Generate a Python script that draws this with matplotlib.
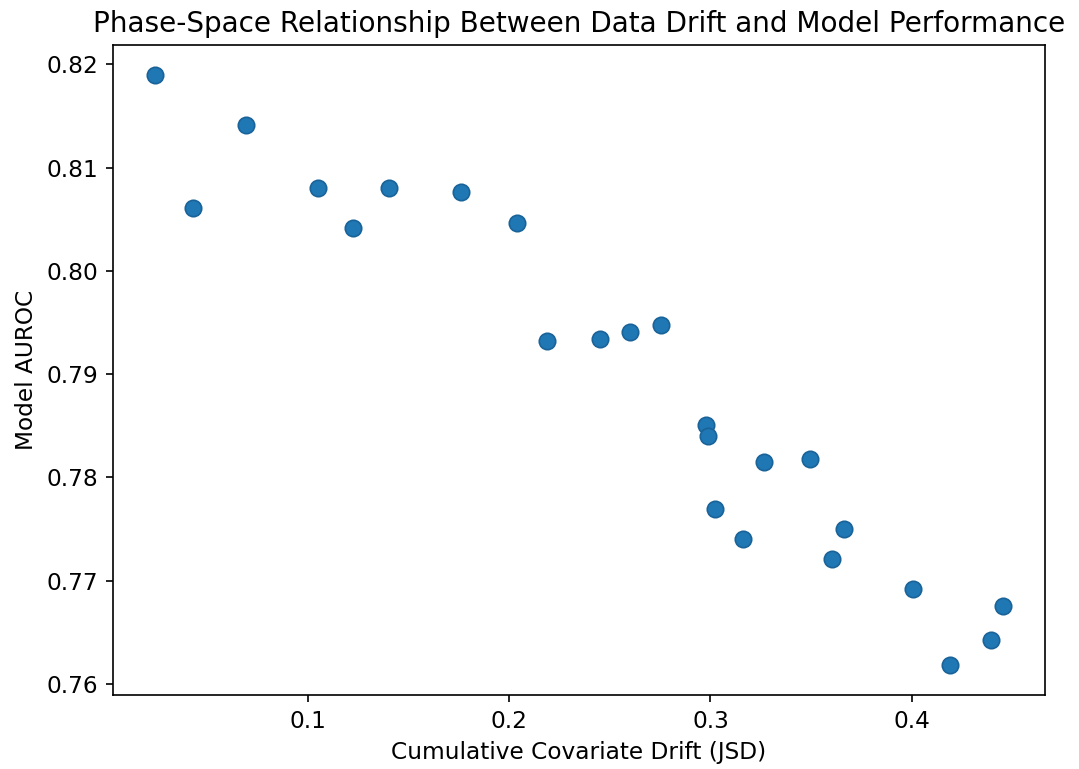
import matplotlib.pyplot as plt

# Drift (JSD) vs model AUROC
drift = [0.0239, 0.0428, 0.0692, 0.1050, 0.1224, 0.1403, 0.1761, 0.2040,
         0.2189, 0.2448, 0.2602, 0.2756, 0.2980, 0.2990, 0.3020, 0.3264,
         0.3493, 0.3164, 0.3662, 0.3602, 0.4005, 0.4189, 0.4393, 0.4453]
auroc = [0.8190, 0.8061, 0.8141, 0.8080, 0.8041, 0.8080, 0.8076, 0.8046,
         0.7932, 0.7934, 0.7941, 0.7948, 0.7851, 0.7840, 0.7769, 0.7815,
         0.7818, 0.7740, 0.7750, 0.7721, 0.7692, 0.7618, 0.7643, 0.7676]

plt.rcParams['font.size'] = 11.2

fig = plt.figure(figsize=(1079 / 150, 769 / 150), dpi=150)
ax = fig.add_axes([0.1047, 0.0962, 0.8638, 0.8453])

ax.scatter(drift, auroc, s=62, color='#1f77b4', edgecolors='#1a6399', linewidths=0.8)

ax.set_title("Phase-Space Relationship Between Data Drift and Model Performance",
             fontsize=13.4)
ax.set_xlabel("Cumulative Covariate Drift (JSD)")
ax.set_ylabel("Model AUROC")

fig.savefig("out.png", dpi=150)
